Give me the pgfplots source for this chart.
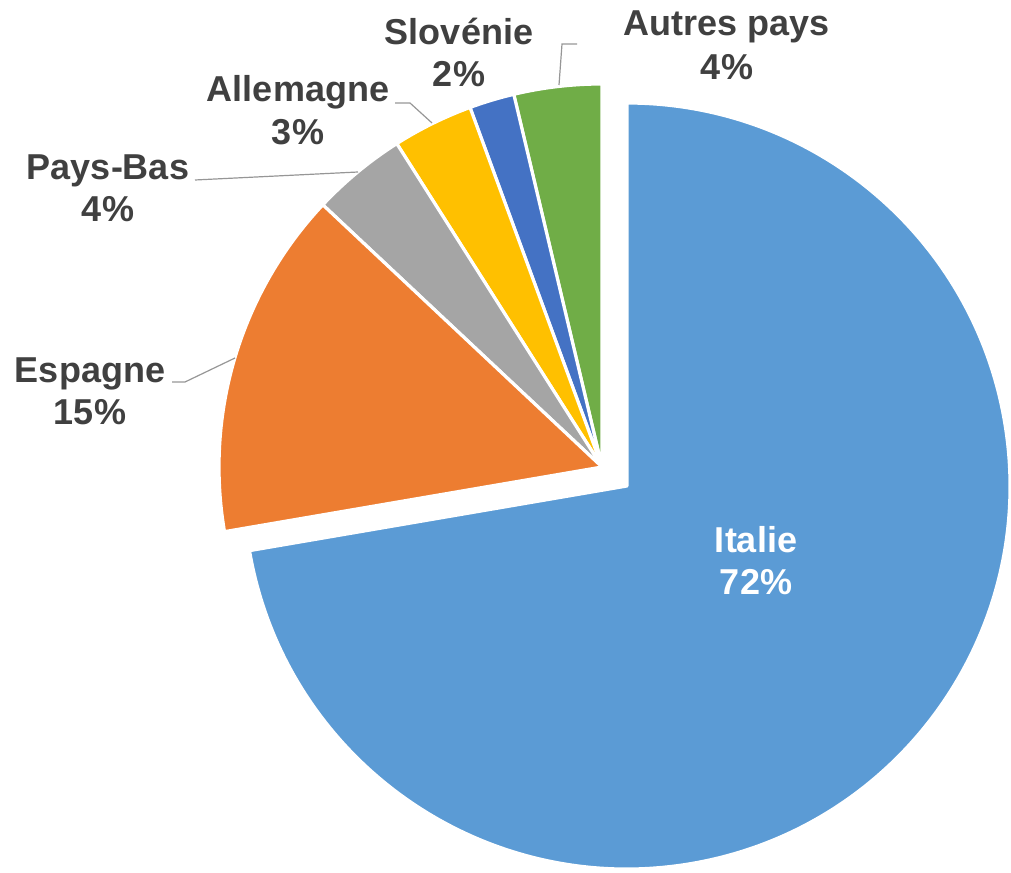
\documentclass[border=0pt]{standalone}
\usepackage{pgfplots}
\pgfplotsset{compat=1.18}
\usepackage{fontspec}
\setmainfont{Liberation Sans}

\definecolor{cItalie}{RGB}{91,155,213}
\definecolor{cEspagne}{RGB}{237,125,49}
\definecolor{cPaysBas}{RGB}{165,165,165}
\definecolor{cAllemagne}{RGB}{255,192,0}
\definecolor{cSlovenie}{RGB}{68,114,196}
\definecolor{cAutres}{RGB}{112,173,71}
\definecolor{txt}{RGB}{64,64,64}
\definecolor{leader}{RGB}{150,150,150}

% shares in percent (counter-clockwise from 12 o'clock, Italie closes the circle)
\def\vAutres{3.7}
\def\vSlovenie{1.9}
\def\vAllemagne{3.4}
\def\vPaysBas{4.0}
\def\vEspagne{14.7}
\def\vItalie{72.3}

\pgfmathsetmacro{\aA}{90}
\pgfmathsetmacro{\aB}{\aA+\vAutres*3.6}
\pgfmathsetmacro{\aC}{\aB+\vSlovenie*3.6}
\pgfmathsetmacro{\aD}{\aC+\vAllemagne*3.6}
\pgfmathsetmacro{\aE}{\aD+\vPaysBas*3.6}
\pgfmathsetmacro{\aF}{\aE+\vEspagne*3.6}
\pgfmathsetmacro{\aG}{\aF+\vItalie*3.6}

\tikzset{lbl/.style={font=\fontsize{18}{21}\selectfont\bfseries, text=txt, anchor=base, inner sep=0pt}}

\newcommand{\slice}[4]{% center, start, end, colour
  \fill[#4, draw=white, line width=1.6pt, line join=round]
    (axis cs:#1) -- ++(#2:191.5pt) arc[start angle=#2, end angle=#3, radius=191.5pt] -- cycle;}

\begin{document}
\begin{tikzpicture}
\begin{axis}[
  x=0.5pt, y=0.5pt,
  xmin=0, xmax=1011, ymin=0, ymax=872,
  hide axis, clip=false,
]
\slice{602,405}{\aA}{\aB}{cAutres}
\slice{602,405}{\aB}{\aC}{cSlovenie}
\slice{602,405}{\aC}{\aD}{cAllemagne}
\slice{602,405}{\aD}{\aE}{cPaysBas}
\slice{602,405}{\aE}{\aF}{cEspagne}
\slice{627,386}{\aF}{\aG}{cItalie}

% leader lines
\draw[leader, line width=0.6pt] (axis cs:559,787) -- (axis cs:562,828) -- (axis cs:577,828);
\draw[leader, line width=0.6pt] (axis cs:432,749) -- (axis cs:410,769) -- (axis cs:395,769);
\draw[leader, line width=0.6pt] (axis cs:358,700) -- (axis cs:195,692);
\draw[leader, line width=0.6pt] (axis cs:235,514) -- (axis cs:185,490) -- (axis cs:172,490);

% labels
\node[lbl] at (axis cs:727,836) {Autres pays};
\node[lbl] at (axis cs:727,792) {4\%};
\node[lbl] at (axis cs:459,827) {Slovénie};
\node[lbl] at (axis cs:459,785) {2\%};
\node[lbl] at (axis cs:298,770) {Allemagne};
\node[lbl] at (axis cs:298,727) {3\%};
\node[lbl] at (axis cs:108,692) {Pays-Bas};
\node[lbl] at (axis cs:108,650) {4\%};
\node[lbl] at (axis cs:90,489) {Espagne};
\node[lbl] at (axis cs:90,447) {15\%};
\node[lbl, text=white] at (axis cs:756,319) {Italie};
\node[lbl, text=white] at (axis cs:756,277) {72\%};
\end{axis}
\pgfresetboundingbox
\path (0,0) rectangle (505.5pt,436pt);
\end{tikzpicture}
\end{document}
